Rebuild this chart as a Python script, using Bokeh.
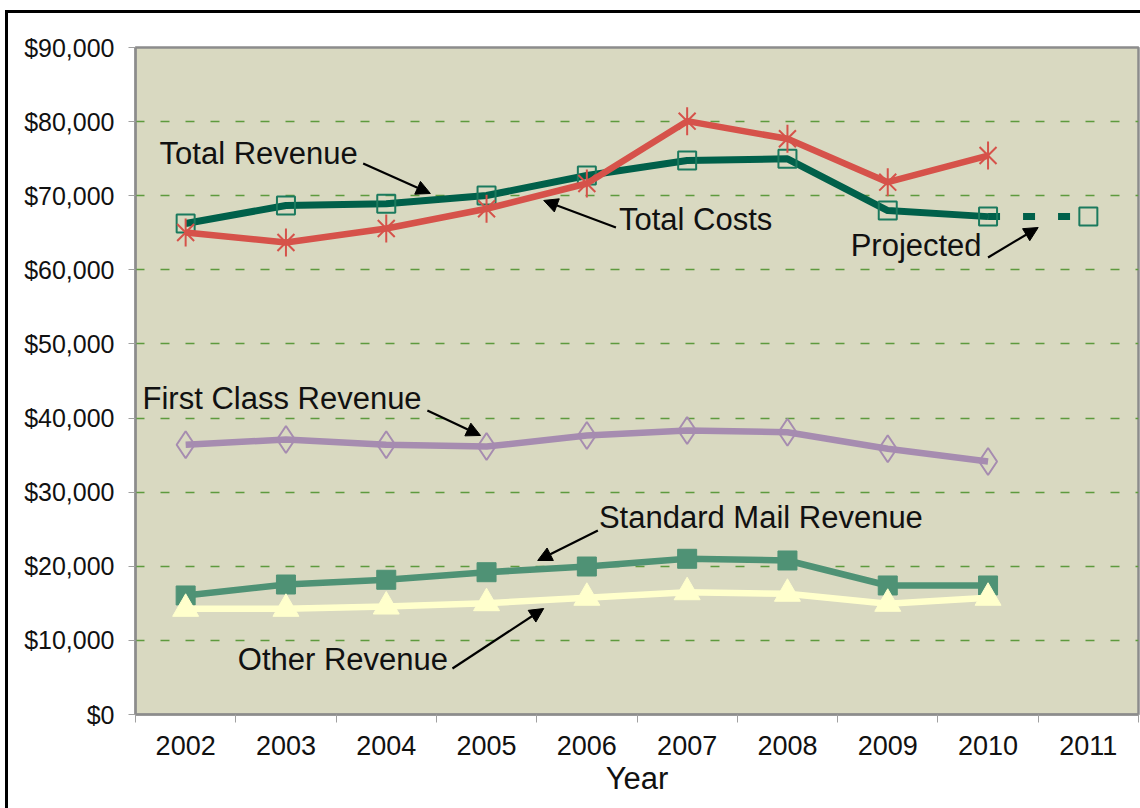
from bokeh.plotting import figure
from bokeh.models import (FixedTicker, NumeralTickFormatter, Label, Arrow, NormalHead, Range1d)
from bokeh.embed import file_html
from bokeh.resources import INLINE

# ---------------- data ----------------
years = ["2002", "2003", "2004", "2005", "2006", "2007", "2008", "2009", "2010", "2011"]
total_revenue = [66250, 68680, 68910, 70030, 72730, 74750, 74980, 67990, 67180]
projected_revenue_2011 = 67180
total_costs = [65040, 63690, 65580, 68240, 71650, 80060, 77680, 71830, 75420]
first_class = [36390, 37110, 36390, 36160, 37650, 38320, 38090, 35850, 34140]
standard_mail = [16060, 17540, 18180, 19200, 19970, 21010, 20780, 17410, 17410]
other_revenue = [14260, 14260, 14570, 15020, 15750, 16500, 16290, 14940, 15750]
y_ticks = [0, 10000, 20000, 30000, 40000, 50000, 60000, 70000, 80000, 90000]

# x position of each year: centre of its band on a 0..N axis
xpos = [i + 0.5 for i in range(len(years))]
x_hist = xpos[:len(total_revenue)]

FONT = "Liberation Sans"

p = figure(width=1140, height=808, output_backend="svg", toolbar_location=None,
           x_range=Range1d(0, len(years)), y_range=Range1d(0, 90000),
           min_border_left=135, min_border_right=2, min_border_top=47, min_border_bottom=94)

p.background_fill_color = "#D9D9C1"
p.border_fill_alpha = 0
p.outline_line_color = "#8C8C8C"
p.outline_line_width = 2.5
# outer black frame of the picture (left and top edges visible)
p.styles = {"box-shadow": "inset 5px 10px 0 0 white, inset 8px 13px 0 0 black",
            "background-color": "white"}

# grid
p.xgrid.visible = False
p.ygrid.ticker = FixedTicker(ticks=y_ticks[1:-1])
p.ygrid.grid_line_color = "#5E9A3E"
p.ygrid.grid_line_dash = "9 16"
p.ygrid.grid_line_width = 1.3

# y axis
p.yaxis.ticker = FixedTicker(ticks=y_ticks)
p.yaxis.formatter = NumeralTickFormatter(format="$0,0")
p.yaxis.major_label_text_font = FONT
p.yaxis.major_label_text_font_size = "25px"
p.yaxis.major_label_text_color = "#111111"
p.yaxis.major_tick_out = 7
p.yaxis.major_tick_in = 0
p.yaxis.major_tick_line_color = "#A0A0A0"
p.yaxis.minor_tick_line_color = None
p.yaxis.axis_line_color = "#8C8C8C"
p.yaxis.axis_line_width = 2
p.yaxis.major_label_standoff = 14

# x axis: labels at band centres, ticks at band boundaries
p.xaxis.ticker = FixedTicker(ticks=xpos, minor_ticks=list(range(len(years) + 1)))
p.xaxis.major_label_overrides = {x: y for x, y in zip(xpos, years)}
p.xaxis.major_tick_line_color = None
p.xaxis.major_tick_out = 8
p.xaxis.minor_tick_out = 8
p.xaxis.minor_tick_in = 0
p.xaxis.minor_tick_line_color = "#A0A0A0"
p.xaxis.axis_line_color = "#8C8C8C"
p.xaxis.axis_line_width = 2
p.xaxis.major_label_text_font = FONT
p.xaxis.major_label_text_font_size = "27px"
p.xaxis.major_label_text_color = "#111111"
p.xaxis.major_label_standoff = 13
p.xaxis.axis_label = "Year"
p.xaxis.axis_label_text_font = FONT
p.xaxis.axis_label_text_font_size = "31px"
p.xaxis.axis_label_text_font_style = "normal"
p.xaxis.axis_label_text_color = "#111111"
p.xaxis.axis_label_standoff = 3

# ---------------- series ----------------
p.line(x_hist, standard_mail, line_color="#4F9275", line_width=6.5, line_join="round")
p.scatter(x_hist, standard_mail, marker="square", size=19, fill_color="#4F9275",
          line_color="#4F9275", line_width=1)

p.line(x_hist, other_revenue, line_color="#FFFFCC", line_width=6.5, line_join="round")
p.scatter(x_hist, other_revenue, marker="triangle", size=26, fill_color="#FFFFCC",
          line_color="#FFFFCC", line_width=1)

p.line(x_hist, first_class, line_color="#A68CB0", line_width=6.5, line_join="round")
p.scatter(x_hist, first_class, marker="diamond", size=27, fill_color=None,
          line_color="#A68CB0", line_width=2)

p.line(x_hist, total_revenue, line_color="#00604A", line_width=7, line_join="round")
p.line([x_hist[-1], xpos[-1]], [total_revenue[-1], projected_revenue_2011],
       line_color="#00604A", line_width=7, line_dash="12 23")
p.scatter(x_hist + [xpos[-1]], total_revenue + [projected_revenue_2011], marker="square",
          size=18, fill_color=None, line_color="#1B7A5E", line_width=2)

p.line(x_hist, total_costs, line_color="#D6524A", line_width=6.5, line_join="round")
p.scatter(x_hist, total_costs, marker="x", size=24, line_color="#D6524A", line_width=2)
p.scatter(x_hist, total_costs, marker="dash", angle=1.5708, size=28,
          line_color="#D6524A", line_width=2)

# ---------------- annotations ----------------
labels = [
    ("Total Revenue", 0.24, 75700),
    ("Total Costs", 4.82, 66750),
    ("Projected", 7.13, 63300),
    ("First Class Revenue", 0.07, 42700),
    ("Standard Mail Revenue", 4.62, 26600),
    ("Other Revenue", 1.02, 7400),
]
for txt, lx, ly in labels:
    p.add_layout(Label(x=lx, y=ly, text=txt, text_font=FONT, text_font_size="31px",
                       text_color="#111111", text_baseline="middle", text_align="left"))

arrows = [
    (2.27, 74350, 2.94, 70300),
    (4.79, 65710, 4.07, 69360),
    (8.50, 61670, 9.00, 65710),
    (2.91, 41020, 3.44, 37650),
    (4.61, 24830, 4.01, 20780),
    (3.16, 6210, 4.07, 14300),
]
for xs, ys, xe, ye in arrows:
    p.add_layout(Arrow(x_start=xs, y_start=ys, x_end=xe, y_end=ye, line_width=2.2,
                       line_color="black",
                       end=NormalHead(size=14, fill_color="black", line_color="black")))

open("out.html", "w").write(file_html(p, INLINE))
